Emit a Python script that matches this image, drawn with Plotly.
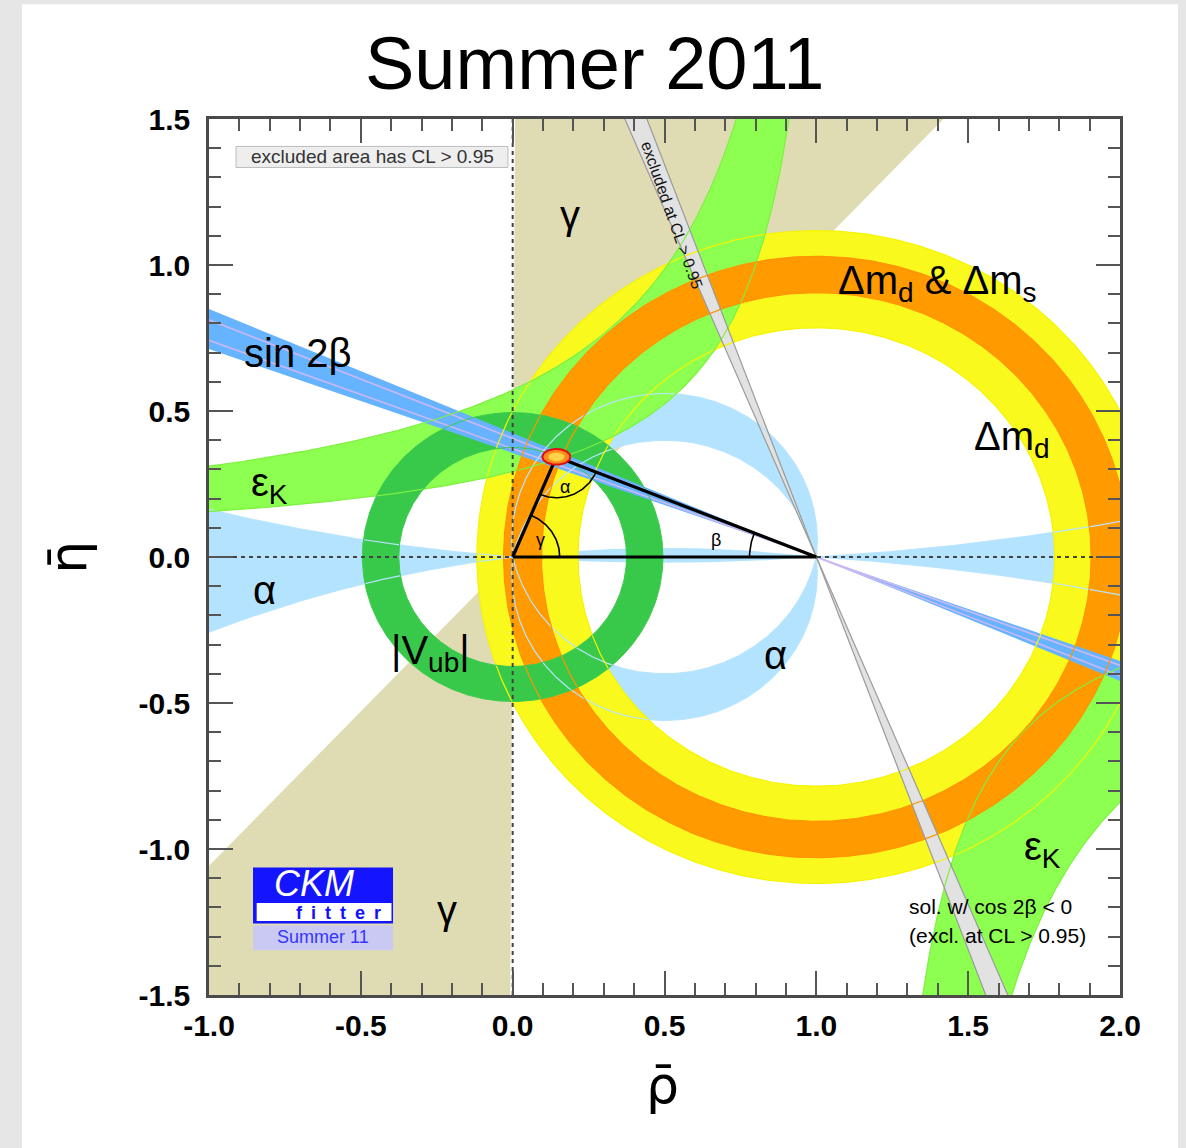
import numpy as np
import plotly.graph_objects as go

# ---------------- data ----------------
rho_range = [-1.0, 2.0]
eta_range = [-1.5, 1.5]
x_ticks = [-1.0, -0.5, 0.0, 0.5, 1.0, 1.5, 2.0]
x_tick_labels = ["-1.0", "-0.5", "0.0", "0.5", "1.0", "1.5", "2.0"]
y_ticks = [-1.5, -1.0, -0.5, 0.0, 0.5, 1.0, 1.5]
y_tick_labels = ["-1.5", "-1.0", "-0.5", "0.0", "0.5", "1.0", "1.5"]

triangle_base = [[0.0, 0.0], [1.0, 0.0]]      # fixed vertices of the unitarity triangle
apex_rho_eta = [0.144, 0.343]                  # best-fit apex (rho_bar, eta_bar)
apex_ellipse_axes = [0.046, 0.027]             # 68% CL region semi-axes
vub_radii = [0.375, 0.495]                     # |Vub| ring about (0,0)
dmd_radii = [0.785, 1.118]                     # Δm_d ring about (1,0)
dmd_dms_radii = [0.905, 1.030]                 # Δm_d & Δm_s ring about (1,0)
sin2b_band_deg = [19.6, 23.0]                  # sin2β wedge through (1,0)
sin2b_inner_deg = [20.35, 22.1]                # inner contour lines of sin2β
cos2b_neg_deg = [67.2, 69.6]                   # excluded cos2β<0 solution
gamma_band_deg = [46.6, 89.7]                  # γ wedge at (0,0)
alpha_arc_h = [[0.40, 0.56], [-0.56, -0.40]]   # α bands: eta of circle through (0,0),(1,0) at rho=0.5
alpha_flat_h_left = [-0.02, 0.031]             # α ~ 0 / π solution (rho<1)
alpha_flat_h_right = [-0.015, 0.016]           # α ~ 0 solution (rho>1)
epsk_a = [1.13, 1.19]                          # εK hyperbolae eta*(a-rho)=b, two edges
epsk_b = [0.33, 0.68]

# ---------------- styles ----------------
C_TAN = "#dfdcb3"
C_ALPHA = "#b3e3ff"
C_YEL = "#f9f91e"
C_EPSK = "#8cff50"
C_ORA = "#ff9a00"
C_VUB = "#38c94a"
C_S2B = "#66b3ff"
C_S2B_LINE = "#cbb8f2"
C_GRAY = "#e2e2e2"
FONT = "Liberation Sans, Arial, sans-serif"

A = np.array(triangle_base[0])
B = np.array(triangle_base[1])
L = 5.0

traces = []


def poly(x, y, color):
    traces.append(go.Scatter(x=list(x), y=list(y), mode="lines", fill="toself",
                             fillcolor=color, line=dict(width=0), hoverinfo="skip"))


def line(x, y, color, width=1.0, dash=None):
    traces.append(go.Scatter(x=list(x), y=list(y), mode="lines",
                             line=dict(color=color, width=width, dash=dash), hoverinfo="skip"))


def ring(center, r1, r2, n=600):
    t = np.linspace(0, 2 * np.pi, n)
    xo, yo = center[0] + r2 * np.cos(t), center[1] + r2 * np.sin(t)
    xi, yi = center[0] + r1 * np.cos(t[::-1]), center[1] + r1 * np.sin(t[::-1])
    return np.concatenate([xo, xi]), np.concatenate([yo, yi])


def circle(center, r, n=600):
    t = np.linspace(0, 2 * np.pi, n)
    return center[0] + r * np.cos(t), center[1] + r * np.sin(t)


def wedge(center, deg_lo, deg_hi, sign=1.0):
    a1, a2 = np.radians(deg_lo), np.radians(deg_hi)
    d1 = np.array([sign * np.cos(a1), np.sin(a1)])
    d2 = np.array([sign * np.cos(a2), np.sin(a2)])
    c = np.array(center)
    pts = [c, c + L * d1, c + L * d2, c, c - L * d1, c - L * d2, c]
    return [p[0] for p in pts], [p[1] for p in pts]


def arc_ab(h, n=300):
    # arc of the circle through A and B passing through (0.5, h), from B to A
    c = (h * h - 0.25) / (2 * h)
    R = np.sqrt(0.25 + c * c)
    thB = np.arctan2(-c, 0.5)
    thA = np.arctan2(-c, -0.5)
    if h > 0:
        if thA < thB:
            thA += 2 * np.pi
    else:
        if thA > thB:
            thA -= 2 * np.pi
    t = np.linspace(thB, thA, n)
    return 0.5 + R * np.cos(t), c + R * np.sin(t)


def near_axis_branch(h, rho):
    c = (h * h - 0.25) / (2 * h)
    R2 = 0.25 + c * c
    return c - np.sign(c) * np.sqrt(R2 - (rho - 0.5) ** 2)


# 1. gamma (tan)
for s in (1.0, -1.0):
    a1, a2 = np.radians(gamma_band_deg[0]), np.radians(gamma_band_deg[1])
    xs = [A[0], A[0] + s * L * np.cos(a1), A[0] + s * L * np.cos(a2), A[0]]
    ys = [A[1], A[1] + s * L * np.sin(a1), A[1] + s * L * np.sin(a2), A[1]]
    poly(xs, ys, C_TAN)

# 2. alpha (light blue)
alpha_outlines = []
for h1, h2 in alpha_arc_h:
    x2, y2 = arc_ab(h2)
    x1, y1 = arc_ab(h1)
    poly(np.concatenate([x2, x1[::-1]]), np.concatenate([y2, y1[::-1]]), C_ALPHA)
    alpha_outlines += [(x1, y1), (x2, y2)]
hl, hh = alpha_flat_h_left
xl, yl = arc_ab(hl)
xh, yh = arc_ab(hh)
poly(np.concatenate([xl, xh[::-1]]), np.concatenate([yl, yh[::-1]]), C_ALPHA)
rl = np.linspace(0.0, rho_range[0] - 0.2, 200)
poly(np.concatenate([rl, rl[::-1]]),
     np.concatenate([near_axis_branch(hl, rl), near_axis_branch(hh, rl[::-1])]), C_ALPHA)
for hv in (hl, hh):
    alpha_outlines.append((rl, near_axis_branch(hv, rl)))
hl2, hh2 = alpha_flat_h_right
rr = np.linspace(1.0, rho_range[1] + 0.2, 200)
poly(np.concatenate([rr, rr[::-1]]),
     np.concatenate([near_axis_branch(hl2, rr), near_axis_branch(hh2, rr[::-1])]), C_ALPHA)
for hv in (hl2, hh2):
    alpha_outlines.append((rr, near_axis_branch(hv, rr)))

# 3. Δm_d (yellow)
poly(*ring(B, dmd_radii[0], dmd_radii[1]), C_YEL)

# 4. εK (light green)
eta_up = np.geomspace(0.06, 1.7, 500)
for sgn in (1.0, -1.0):
    e = sgn * eta_up
    r1 = epsk_a[0] - epsk_b[0] / e
    r2 = epsk_a[1] - epsk_b[1] / e
    poly(np.concatenate([r1, r2[::-1]]), np.concatenate([e, e[::-1]]), C_EPSK)

# 5. Δm_d & Δm_s (orange)
poly(*ring(B, dmd_dms_radii[0], dmd_dms_radii[1]), C_ORA)

# 6. |Vub| (dark green)
poly(*ring(A, vub_radii[0], vub_radii[1]), C_VUB)

# 7. sin2β (blue)
poly(*wedge(B, sin2b_band_deg[0], sin2b_band_deg[1], sign=-1.0), C_S2B)
for d in sin2b_inner_deg:
    a = np.radians(d)
    line([B[0] + L * np.cos(a), B[0] - L * np.cos(a)], [B[1] - L * np.sin(a), B[1] + L * np.sin(a)],
         C_S2B_LINE, width=1.6)

# 8. cos2β<0 excluded (gray)
poly(*wedge(B, cos2b_neg_deg[0], cos2b_neg_deg[1], sign=-1.0), C_GRAY)

# 9. contour outlines on top
for xo, yo in alpha_outlines:
    line(xo, yo, "#b8e4ff", 1.2)
for r in dmd_radii:
    line(*circle(B, r), "#f4f400", 1.2)
for i in range(2):
    e = np.concatenate([-eta_up[::-1], [np.nan], eta_up])
    line(epsk_a[i] - epsk_b[i] / e, e, "#7ef040", 1.2)
for r in dmd_dms_radii:
    line(*circle(B, r), "#ff9400", 1.2)
for r in vub_radii:
    line(*circle(A, r), "#3ccb4c", 1.0)
for d in cos2b_neg_deg:
    a = np.radians(d)
    line([B[0] + L * np.cos(a), B[0] - L * np.cos(a)], [B[1] - L * np.sin(a), B[1] + L * np.sin(a)],
         "#9a9a9a", 1.2)

# 10. dashed zero lines
line([0, 0], eta_range, "#444444", 2, dash="4px,4px")
line(rho_range, [0, 0], "#444444", 2, dash="4px,4px")

# 11. triangle
P = np.array(apex_rho_eta)
line([A[0], P[0], B[0], A[0]], [A[1], P[1], B[1], A[1]], "black", 3.2)


def angle_arc(center, r, d0, d1):
    t = np.radians(np.linspace(d0, d1, 60))
    line(center[0] + r * np.cos(t), center[1] + r * np.sin(t), "black", 1.6)


ang_O = np.degrees(np.arctan2(P[1], P[0]))
ang_PA = np.degrees(np.arctan2(A[1] - P[1], A[0] - P[0])) % 360
ang_PB = np.degrees(np.arctan2(B[1] - P[1], B[0] - P[0])) % 360
ang_BP = np.degrees(np.arctan2(P[1] - B[1], P[0] - B[0]))
angle_arc(A, 0.155, 0, ang_O)
angle_arc(P, 0.14, ang_PA, ang_PB)
angle_arc(B, 0.22, ang_BP, 180)

# 12. apex 68% region
t = np.linspace(0, 2 * np.pi, 100)
traces.append(go.Scatter(x=P[0] + apex_ellipse_axes[0] * np.cos(t), y=P[1] + apex_ellipse_axes[1] * np.sin(t),
                         mode="lines", fill="toself", fillcolor="#ff8a1c",
                         line=dict(color="#e01010", width=2), hoverinfo="skip"))
traces.append(go.Scatter(x=P[0] + 0.6 * apex_ellipse_axes[0] * np.cos(t),
                         y=P[1] + 0.6 * apex_ellipse_axes[1] * np.sin(t),
                         mode="lines", fill="toself", fillcolor="#ffd24a",
                         line=dict(color="#ff9a20", width=1), hoverinfo="skip"))

fig = go.Figure(traces)

# ---------------- annotations ----------------
ann = []


def txt(x, y, s, size=40, color="black", xanchor="center", yanchor="middle", xref="x", yref="y",
        angle=0, family=FONT, **kw):
    ann.append(dict(x=x, y=y, xref=xref, yref=yref, text=s, showarrow=False, xanchor=xanchor,
                    yanchor=yanchor, textangle=angle,
                    font=dict(size=size, color=color, family=family, **kw)))


txt(0.19, 1.17, "γ", 40)
txt(-0.216, -1.21, "γ", 40)
txt(-0.707, 0.70, "sin 2β", 40)
txt(-0.80, 0.245, "ε<sub>K</sub>", 40)
txt(-0.816, -0.113, "α", 40)
txt(-0.27, -0.33, "|V<sub>ub</sub>|", 40)
txt(0.867, -0.336, "α", 40)
txt(1.40, 0.94, "Δm<sub>d</sub> & Δm<sub>s</sub>", 40)
txt(1.644, 0.405, "Δm<sub>d</sub>", 40)
txt(1.745, -1.0, "ε<sub>K</sub>", 40)
txt(0.172, 0.24, "α", 18)
txt(0.09, 0.058, "γ", 18)
txt(0.67, 0.058, "β", 18)
txt(0.525, 1.17, "excluded at CL > 0.95", 16, color="#111111", angle=70.5)
txt(1.298, -1.196, "sol. w/ cos 2β < 0", 21, xanchor="left")
txt(1.298, -1.296, "(excl. at CL > 0.95)", 21, xanchor="left")
txt(-0.463, 1.37, "excluded area has CL > 0.95", 19, color="#333333")
# CKMfitter logo
txt(-0.655, -1.118, "CKM", 36, color="white", style="italic")
txt(-0.572, -1.218, "f\u2002i\u2002t\u2002t\u2002e\u2002r", 18, color="#1010ff", weight="bold")
txt(-0.625, -1.303, "Summer 11", 18, color="#3535ff")
# title and axis titles (paper coords)
txt(0.4237, 1.0639, "Summer 2011", 74, xref="paper", yref="paper")
txt(-0.155, 0.5, "η\u0304", 52, xref="paper", yref="paper", angle=-90, family="DejaVu Sans")
txt(0.498, -0.1026, "ρ\u0304", 52, xref="paper", yref="paper", family="DejaVu Sans")

shapes = [
    dict(type="rect", xref="paper", yref="paper", x0=-0.2053, x1=1.0637, y0=-0.18, y1=1.131,
         fillcolor="white", line=dict(width=0), layer="below"),
    dict(type="rect", xref="x", yref="y", x0=-0.911, x1=-0.0155, y0=1.334, y1=1.406,
         fillcolor="#eeeeee", line=dict(color="#bdbdbd", width=1), layer="above"),
    dict(type="rect", xref="x", yref="y", x0=-0.855, x1=-0.394, y0=-1.255, y1=-1.063,
         fillcolor="#1414ff", line=dict(width=0), layer="above"),
    dict(type="rect", xref="x", yref="y", x0=-0.843, x1=-0.399, y0=-1.247, y1=-1.185,
         fillcolor="white", line=dict(width=0), layer="above"),
    dict(type="rect", xref="x", yref="y", x0=-0.855, x1=-0.394, y0=-1.347, y1=-1.262,
         fillcolor="#c9c9f4", line=dict(width=0), layer="above"),
]

axis_common = dict(showgrid=False, zeroline=False, showline=True, linecolor="#4a4a4a", linewidth=2.5,
                   mirror="ticks", ticks="inside", ticklen=24, tickwidth=2, tickcolor="#555555",
                   tickfont=dict(size=30, family=FONT, color="black", weight="bold"),
                   minor=dict(dtick=0.1, tick0=0, ticks="inside", ticklen=12, tickwidth=2,
                              tickcolor="#555555"))

fig.update_layout(
    width=1186, height=1148,
    margin=dict(l=209, r=66, t=119, b=153),
    paper_bgcolor="#e6e6e6", plot_bgcolor="white",
    showlegend=False,
    xaxis=dict(range=rho_range, tickvals=x_ticks, ticktext=x_tick_labels, ticklabelstandoff=2,
               **axis_common),
    yaxis=dict(range=eta_range, tickvals=y_ticks, ticktext=y_tick_labels, ticklabelstandoff=10,
               **axis_common),
    annotations=ann, shapes=shapes,
)

fig.write_html("out.html", config={"displayModeBar": False},
               post_script="document.body.style.margin='0px';")
